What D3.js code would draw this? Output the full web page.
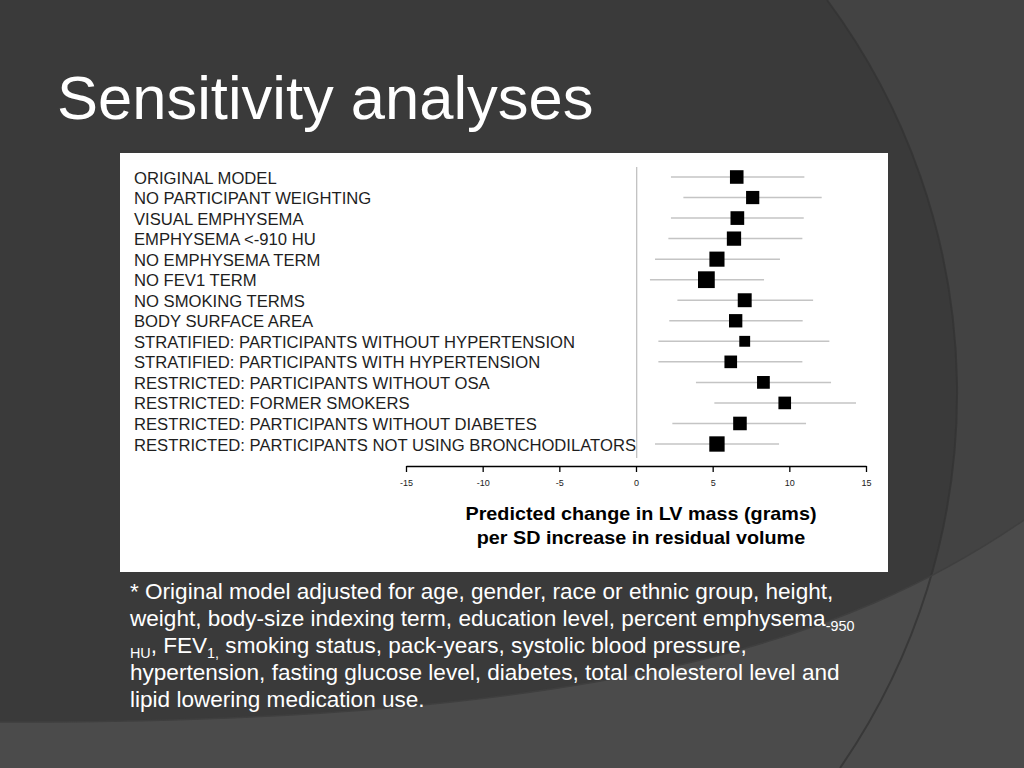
<!DOCTYPE html>
<html>
<head>
<meta charset="utf-8">
<script src="https://cdn.jsdelivr.net/npm/d3@7"></script>
<style>
  html, body { margin: 0; padding: 0; background: #3a3a3a; overflow: hidden; }
  svg { display: block; }
  text { font-family: "Liberation Sans", Arial, Helvetica, sans-serif; }
</style>
</head>
<body>
<svg id="chart" width="1024" height="768"></svg>
<script>
// ---------------- DATA ----------------
const title = "Sensitivity analyses";
const categories = [
  "ORIGINAL MODEL",
  "NO PARTICIPANT WEIGHTING",
  "VISUAL EMPHYSEMA",
  "EMPHYSEMA <-910 HU",
  "NO EMPHYSEMA TERM",
  "NO FEV1 TERM",
  "NO SMOKING TERMS",
  "BODY SURFACE AREA",
  "STRATIFIED: PARTICIPANTS WITHOUT HYPERTENSION",
  "STRATIFIED: PARTICIPANTS WITH HYPERTENSION",
  "RESTRICTED: PARTICIPANTS WITHOUT OSA",
  "RESTRICTED: FORMER SMOKERS",
  "RESTRICTED: PARTICIPANTS WITHOUT DIABETES",
  "RESTRICTED: PARTICIPANTS NOT USING BRONCHODILATORS"
];
const estimates = [6.57, 7.61, 6.61, 6.39, 5.28, 4.59, 7.09, 6.50, 7.09, 6.18, 8.31, 9.70, 6.78, 5.28];
const lowerCI   = [2.28, 3.09, 2.28, 2.11, 1.24, 0.91, 2.70, 2.17, 1.46, 1.46, 3.91, 5.11, 2.37, 1.24];
const upperCI   = [10.98, 12.11, 10.94, 10.85, 9.39, 8.35, 11.55, 10.87, 12.61, 10.85, 12.72, 14.35, 11.09, 9.33];
// relative weight of each estimate (drives marker size)
const weights   = [0.115, 0.112, 0.116, 0.121, 0.128, 0.142, 0.118, 0.113, 0.092, 0.107, 0.108, 0.107, 0.115, 0.130];
const xTicks = [-15, -10, -5, 0, 5, 10, 15];
const xDomain = [-15, 15];
const axisTitle = ["Predicted change in LV mass (grams)", "per SD increase in residual volume"];
const footnoteLines = [
  [{t: "* Original model adjusted for age, gender, race or ethnic group, height,"}],
  [{t: "weight, body-size indexing term, education level, percent emphysema"}, {t: "-950", sub: true}],
  [{t: "HU", sub: true}, {t: ", FEV"}, {t: "1,", sub: true}, {t: " smoking status, pack-years, systolic blood pressure,"}],
  [{t: "hypertension, fasting glucose level, diabetes, total cholesterol level and"}],
  [{t: "lipid lowering medication use."}]
];

const rows = categories.map((c, i) => ({
  label: c, est: estimates[i], lo: lowerCI[i], hi: upperCI[i], w: weights[i]
}));

// ---------------- DRAW ----------------
const svg = d3.select("#chart");
const STRETCH = 1.04;     // the original's sans face runs slightly wider than Liberation Sans
const FN_STRETCH = 1.025;

// background decoration
svg.append("rect").attr("width", 1024).attr("height", 768).attr("fill", "#3a3a3a");
svg.append("path")
  .attr("d", "M827,0 A659,659 0 0 1 840,768 L1024,768 L1024,0 Z")
  .attr("fill", "#434343");
svg.append("path")
  .attr("d", "M0,722 C600,724 850,640 1024,520 L1024,768 L0,768 Z")
  .attr("fill", "#4b4b4b");
svg.append("path")
  .attr("d", "M827,0 A659,659 0 0 1 840,768")
  .attr("fill", "none").attr("stroke", "#333").attr("stroke-width", 2).attr("opacity", 0.8);
svg.append("path")
  .attr("d", "M0,722 C600,724 850,640 1024,520")
  .attr("fill", "none").attr("stroke", "#3f3f3f").attr("stroke-width", 1.5);

// title
svg.append("text")
  .attr("class", "stretch-title")
  .attr("x", 57).attr("y", 119)
  .attr("fill", "#ffffff")
  .attr("font-size", 61)
  .text(title);

// white panel
svg.append("rect")
  .attr("x", 120).attr("y", 153).attr("width", 768).attr("height", 419)
  .attr("fill", "#ffffff");

// scales
const x = d3.scaleLinear().domain(xDomain).range([406, 866]);
const y = d3.scalePoint().domain(categories).range([177, 444]);
const size = d3.scaleLinear().domain([0, 1]).range([0, 118]);

// zero reference line
svg.append("line")
  .attr("x1", x(0) + 0.7).attr("x2", x(0) + 0.7)
  .attr("y1", 167).attr("y2", 458)
  .attr("stroke", "#bdbdbd").attr("stroke-width", 1.2);

// labels
svg.append("g").selectAll("text")
  .data(rows).join("text")
  .attr("class", "stretch")
  .attr("x", 134)
  .attr("y", d => y(d.label) + 6.5)
  .attr("font-size", 16)
  .attr("fill", "#1e1e1e")
  .text(d => d.label);

// confidence intervals
svg.append("g").selectAll("line")
  .data(rows).join("line")
  .attr("x1", d => x(d.lo)).attr("x2", d => x(d.hi))
  .attr("y1", d => y(d.label)).attr("y2", d => y(d.label))
  .attr("stroke", "#c4c4c4").attr("stroke-width", 1.5);

// point estimates
svg.append("g").selectAll("rect")
  .data(rows).join("rect")
  .attr("x", d => x(d.est) - size(d.w) / 2)
  .attr("y", d => y(d.label) - size(d.w) / 2)
  .attr("width", d => size(d.w))
  .attr("height", d => size(d.w))
  .attr("fill", "#000");

// x axis
const axis = d3.axisBottom(x).tickValues(xTicks).tickSize(6).tickSizeOuter(0).tickPadding(8)
  .tickFormat(d3.format("d"));
const axG = svg.append("g").attr("transform", "translate(0,466)").call(axis);
axG.select(".domain").attr("stroke", "#000").attr("stroke-width", 1.3);
axG.selectAll(".tick line").attr("stroke", "#000").attr("stroke-width", 1.3);
axG.selectAll(".tick text")
  .attr("font-size", 9).attr("fill", "#222")
  .attr("font-family", "'Liberation Sans', Arial, sans-serif")
  .text(d => String(d).replace("\u2212", "-"));

// axis title
svg.append("g").selectAll("text")
  .data(axisTitle).join("text")
  .attr("class", "stretch")
  .attr("x", 641)
  .attr("y", (d, i) => 520 + i * 24)
  .attr("text-anchor", "middle")
  .attr("font-size", 19)
  .attr("font-weight", "bold")
  .attr("fill", "#000")
  .text(d => d);

// footnote
const fn = svg.append("g");
footnoteLines.forEach((parts, i) => {
  const t = fn.append("text")
    .attr("class", "stretch-fn")
    .attr("x", 130)
    .attr("y", 598.5 + i * 27.2)
    .attr("fill", "#ffffff")
    .attr("font-size", 22);
  let shifted = false;
  parts.forEach(p => {
    const ts = t.append("tspan").text(p.t);
    if (p.sub) {
      ts.attr("font-size", 14);
      if (!shifted) { ts.attr("dy", 5); shifted = true; }
    } else if (shifted) {
      ts.attr("dy", -5); shifted = false;
    }
  });
});

// widen text to match the original face's proportions
function stretch(sel, f) {
  sel.each(function () {
    const len = this.getComputedTextLength();
    d3.select(this).attr("textLength", len * f).attr("lengthAdjust", "spacingAndGlyphs");
  });
}
stretch(svg.selectAll("text.stretch"), STRETCH);
stretch(svg.selectAll("text.stretch-fn"), FN_STRETCH);
stretch(svg.selectAll("text.stretch-title"), 1.008);
</script>
</body>
</html>
